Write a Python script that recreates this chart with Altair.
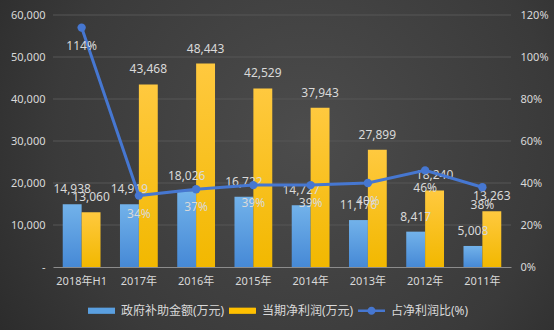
import altair as alt
import pandas as pd

categories = ["2018年H1", "2017年", "2016年", "2015年", "2014年", "2013年", "2012年", "2011年"]
subsidy = [14938, 14919, 18026, 16722, 14727, 11176, 8417, 5008]
profit = [13060, 43468, 48443, 42529, 37943, 27899, 18240, 13263]
ratio = [114, 34, 37, 39, 39, 40, 46, 38]
series = ["政府补助金额(万元)", "当期净利润(万元)", "占净利润比(%)"]
left_ticks = [0, 10000, 20000, 30000, 40000, 50000, 60000]
right_ticks = [0, 20, 40, 60, 80, 100, 120]

FONT = "Noto Sans, Noto Sans CJK SC"
TXT = "#d9d9d9"
LINE = "#4677d1"

bars = pd.DataFrame(
    [{"cat": c, "series": series[0], "value": v} for c, v in zip(categories, subsidy)]
    + [{"cat": c, "series": series[1], "value": v} for c, v in zip(categories, profit)]
)
line_df = pd.DataFrame({"cat": categories, "ratio": ratio})
legend_df = pd.DataFrame({"cat": [categories[0]] * 3, "series": series, "value": [0, 0, 0]})
grid_df = pd.DataFrame({"v": left_ticks[1:]})
bg_df = pd.DataFrame({"k": [0]})

W, H = 458, 252

xenc = alt.X("cat:N", sort=categories,
             scale=alt.Scale(paddingInner=0.34, paddingOuter=0.17),
             axis=alt.Axis(title=None, labelAngle=0, domain=True, domainColor="#8c8c8c",
                           ticks=False, grid=False, labelPadding=8, labelFontSize=11, zindex=1))
xoff = alt.XOffset("series:N", sort=series[:2], scale=alt.Scale(domain=series[:2], paddingInner=0, paddingOuter=0))

yl_axis = alt.Axis(title=None, values=left_ticks,
                   labelExpr="datum.value == 0 ? '-' : format(datum.value, ',')",
                   grid=False, domain=False, ticks=False,
                   labelPadding=8, labelFontSize=11, zindex=1)
yl = alt.Scale(domain=[0, 60000], nice=False)

yr_axis = alt.Axis(title=None, orient="right", values=right_ticks,
                   labelExpr="datum.value + '%'", grid=False, domain=False, ticks=False,
                   labelPadding=9, labelFontSize=11, zindex=1)
yr = alt.Scale(domain=[0, 120], nice=False)

bg = alt.Chart(bg_df).mark_rect(
    fill=alt.RadialGradient(
        gradient="radial", x1=0.55, y1=0.45, x2=0.55, y2=0.45, r1=0, r2=0.75,
        stops=[alt.GradientStop(color="#4c4c4c", offset=0),
               alt.GradientStop(color="#3a3a3a", offset=0.6),
               alt.GradientStop(color="#252525", offset=1)])
).encode(x=alt.value(-53), x2=alt.value(W + 43), y=alt.value(-15), y2=alt.value(H + 63))

grid = alt.Chart(grid_df).mark_rule(color="#575757", strokeWidth=1).encode(
    y=alt.Y("v:Q", scale=yl, axis=yl_axis))

blue_grad = alt.LinearGradient(gradient="linear", x1=0, x2=0, y1=0, y2=1,
                               stops=[alt.GradientStop(color="#72b2ea", offset=0),
                                      alt.GradientStop(color="#4689d6", offset=1)])
yel_grad = alt.LinearGradient(gradient="linear", x1=0, x2=0, y1=0, y2=1,
                              stops=[alt.GradientStop(color="#ffc93f", offset=0),
                                     alt.GradientStop(color="#f2b800", offset=1)])

base_bar = alt.Chart(bars)
blue = base_bar.transform_filter(alt.datum.series == series[0]).mark_bar(fill=blue_grad).encode(
    x=xenc, xOffset=xoff, y=alt.Y("value:Q", scale=yl, axis=yl_axis))
yel = base_bar.transform_filter(alt.datum.series == series[1]).mark_bar(fill=yel_grad).encode(
    x=xenc, xOffset=xoff, y=alt.Y("value:Q", scale=yl, axis=yl_axis))
bar_txt = base_bar.mark_text(dy=-15, baseline="middle", color=TXT, font=FONT, fontSize=12).encode(
    x=xenc, xOffset=xoff, y=alt.Y("value:Q", scale=yl, axis=yl_axis),
    text=alt.Text("value:Q", format=","))

RECT = "M-1,-0.23H1V0.23H-1Z"
LINESYM = "M-1,-0.1H1V0.1H-1Z M0.3,0 A0.3,0.3 0 1,1 -0.3,0 A0.3,0.3 0 1,1 0.3,0Z"
leg = alt.Legend(title=None, orient="none", direction="horizontal",
                 legendX=35, legendY=282, padding=0,
                 symbolSize=729, symbolOpacity=1, symbolStrokeWidth=0,
                 labelColor=TXT, labelFont=FONT, labelFontSize=12,
                 labelOffset=6, columnPadding=4)
legend_layer = alt.Chart(legend_df).mark_point(filled=True, opacity=0).encode(
    x=xenc, y=alt.Y("value:Q", scale=yl, axis=yl_axis),
    color=alt.Color("series:N", sort=series,
                    scale=alt.Scale(domain=series, range=["#5a9fe0", "#ffc000", LINE]),
                    legend=leg),
    shape=alt.Shape("series:N", sort=series,
                    scale=alt.Scale(domain=series, range=[RECT, RECT, LINESYM]),
                    legend=leg))

left_group = alt.layer(grid, blue, yel, bar_txt, legend_layer)

lbase = alt.Chart(line_df)
ln = lbase.mark_line(color=LINE, strokeWidth=3).encode(
    x=xenc, y=alt.Y("ratio:Q", scale=yr, axis=yr_axis))
pts = lbase.mark_circle(color=LINE, size=70, opacity=1).encode(
    x=xenc, y=alt.Y("ratio:Q", scale=yr, axis=yr_axis))
pct = lbase.mark_text(dy=18, baseline="middle", color=TXT, font=FONT, fontSize=12).encode(
    x=xenc, y=alt.Y("ratio:Q", scale=yr, axis=yr_axis),
    text=alt.Text("label:N")).transform_calculate(label="datum.ratio + '%'")

right_group = alt.layer(ln, pts, pct)

chart = alt.layer(bg, left_group, right_group).resolve_scale(y="independent").properties(
    width=W, height=H,
    autosize=alt.AutoSizeParams(type="none"),
    padding={"left": 53, "top": 15, "right": 43, "bottom": 63},
    background="#2e2e2e",
).configure_view(stroke=None).configure_axis(
    labelColor=TXT, labelFont=FONT
)

chart.save("out.html", embed_options={"renderer": "svg", "actions": False})
